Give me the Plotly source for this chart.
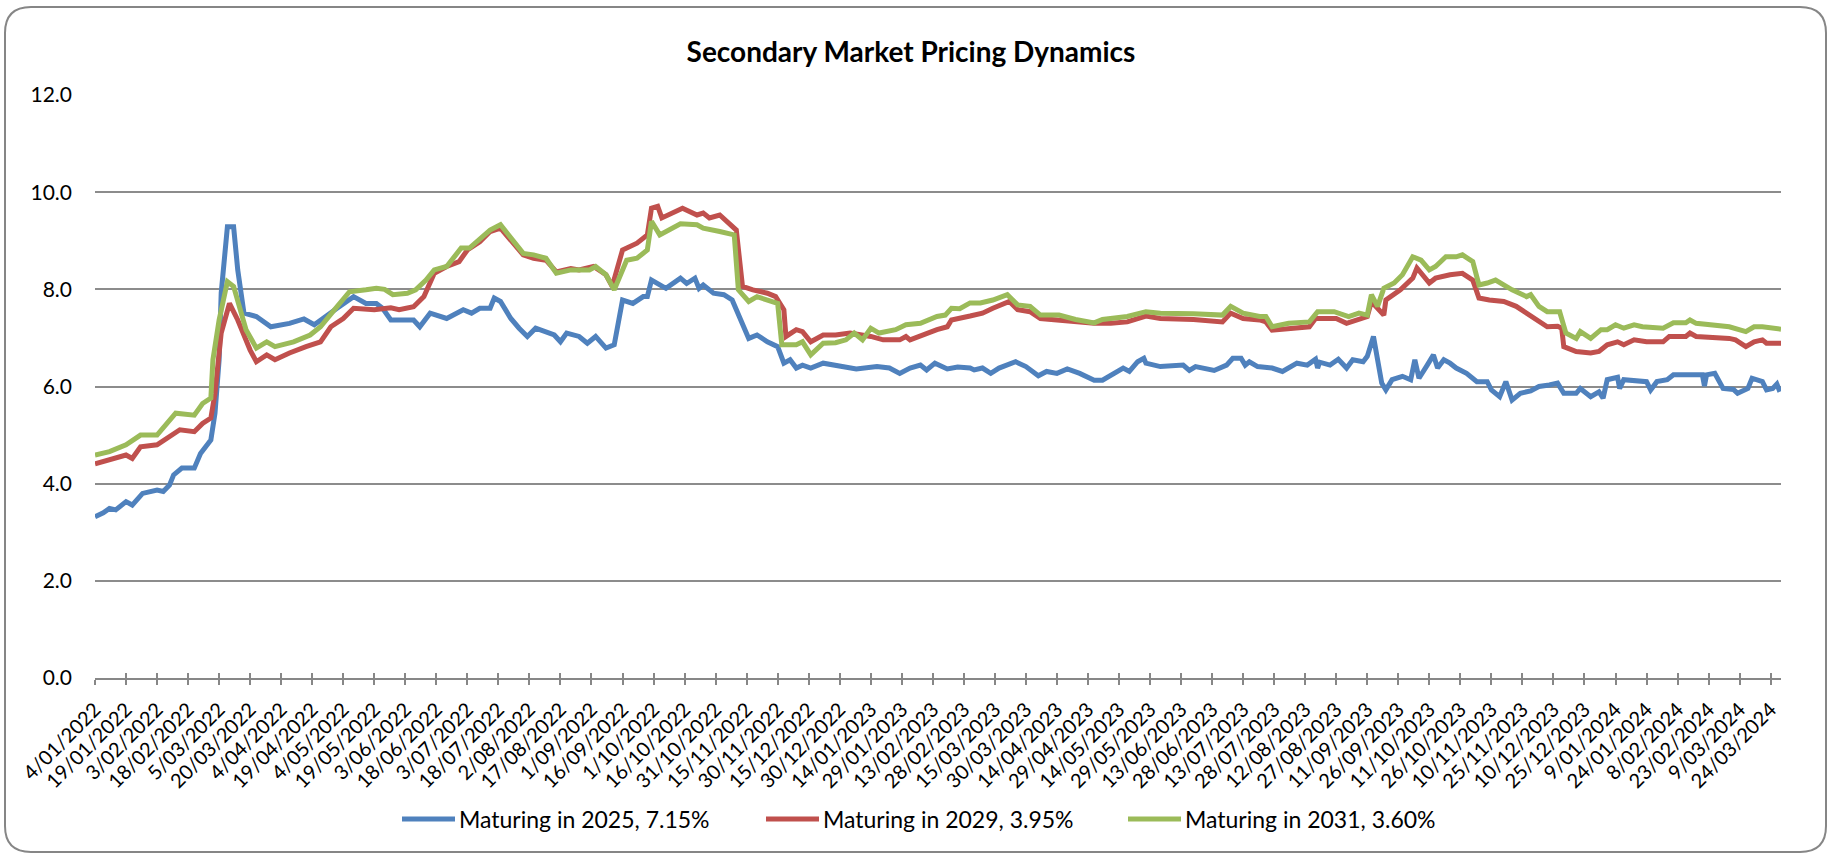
import pandas as pd
import plotly.graph_objects as go

# days counted from 4/01/2022
start = pd.Timestamp("2022-01-04")

blue_day = [0, 4, 7, 10, 15, 18, 23, 30, 33, 36, 38, 42, 48, 51, 56, 58, 60, 61, 64, 67, 69, 72, 78, 85, 94,
            101, 106, 110, 117, 125, 131, 136, 139, 143, 154, 157, 162, 170, 178, 182, 186, 191, 193, 196, 201,
            205, 209, 213, 222, 225, 228, 234, 238, 242, 247, 251, 255, 260, 265, 267, 269, 276, 283, 286, 290,
            292, 294, 299, 304, 308, 310, 316, 320, 325, 330, 333, 336, 339, 342, 346, 352, 358, 368, 378, 384,
            389, 394, 399, 402, 406, 412, 417, 423, 425, 429, 433, 437, 445, 450, 456, 460, 465, 470, 476, 483,
            487, 492, 497, 500, 504, 507, 508, 515, 526, 529, 532, 541, 547, 550, 554, 556, 558, 562, 569, 574,
            581, 586, 590, 591, 592, 597, 601, 605, 608, 613, 615, 618, 619, 622, 624, 627, 632, 636, 638, 640,
            644, 647, 649, 652, 655, 658, 663, 668, 673, 675, 679, 682, 685, 689, 694, 698, 703, 707, 710, 716,
            718, 723, 727, 729, 731, 736, 737, 739, 750, 752, 755, 760, 763, 777, 778, 779, 783, 787, 792, 794,
            799, 801, 806, 808, 811, 813, 814, 815]
blue_val = [3.32, 3.40, 3.49, 3.46, 3.63, 3.56, 3.80, 3.87, 3.84, 3.97, 4.18, 4.32, 4.32, 4.62, 4.90, 5.45, 6.55,
            7.92, 9.29, 9.29, 8.40, 7.51, 7.44, 7.23, 7.30, 7.39, 7.27, 7.40, 7.61, 7.85, 7.71, 7.71, 7.61, 7.37,
            7.37, 7.23, 7.51, 7.40, 7.58, 7.51, 7.61, 7.61, 7.82, 7.75, 7.40, 7.20, 7.03, 7.20, 7.06, 6.92, 7.10,
            7.03, 6.89, 7.03, 6.79, 6.86, 7.78, 7.71, 7.85, 7.85, 8.19, 8.02, 8.23, 8.12, 8.23, 8.02, 8.09, 7.92,
            7.89, 7.78, 7.58, 6.99, 7.06, 6.92, 6.82, 6.48, 6.55, 6.38, 6.44, 6.38, 6.48, 6.44, 6.36, 6.41, 6.38,
            6.27, 6.38, 6.44, 6.34, 6.48, 6.36, 6.40, 6.38, 6.34, 6.38, 6.27, 6.38, 6.51, 6.41, 6.22, 6.31, 6.27,
            6.36, 6.27, 6.13, 6.13, 6.27, 6.38, 6.31, 6.51, 6.58, 6.48, 6.41, 6.44, 6.33, 6.41, 6.33, 6.44, 6.58,
            6.58, 6.44, 6.51, 6.41, 6.38, 6.31, 6.48, 6.44, 6.56, 6.38, 6.50, 6.44, 6.56, 6.38, 6.55, 6.51, 6.62,
            7.03, 6.82, 6.07, 5.93, 6.14, 6.21, 6.14, 6.55, 6.17, 6.44, 6.65, 6.38, 6.55, 6.48, 6.38, 6.27, 6.10,
            6.10, 5.93, 5.79, 6.10, 5.72, 5.86, 5.91, 6.00, 6.03, 6.07, 5.86, 5.86, 5.96, 5.79, 5.89, 5.76, 6.14,
            6.19, 5.96, 6.14, 6.10, 5.93, 6.10, 6.14, 6.24, 6.24, 6.01, 6.24, 6.27, 5.96, 5.94, 5.86, 5.96, 6.17,
            6.10, 5.93, 5.96, 6.05, 5.94, 5.96]

red_day = [0, 7, 15, 18, 22, 30, 36, 41, 48, 52, 56, 58, 61, 65, 69, 72, 75, 78, 83, 87, 94, 102, 109, 114, 120,
           125, 135, 143, 147, 154, 159, 164, 170, 176, 180, 186, 191, 196, 202, 207, 212, 218, 223, 230, 234, 241,
           247, 250, 255, 262, 267, 269, 272, 274, 284, 291, 294, 297, 302, 305, 310, 313, 318, 325, 329, 333, 334,
           339, 342, 346, 352, 358, 365, 375, 381, 389, 392, 394, 400, 407, 412, 414, 423, 429, 434, 442, 446, 452,
           457, 466, 475, 483, 491, 499, 508, 515, 531, 545, 549, 555, 563, 566, 569, 577, 587, 590, 600, 605, 611,
           615, 617, 621, 623, 624, 631, 637, 639, 645, 648, 655, 661, 666, 669, 674, 681, 687, 692, 694, 697, 702,
           707, 709, 710, 716, 723, 727, 731, 736, 739, 744, 750, 758, 761, 769, 771, 774, 790, 793, 798, 802, 806,
           808, 815]
red_val = [4.41, 4.49, 4.59, 4.52, 4.76, 4.80, 4.97, 5.11, 5.07, 5.24, 5.35, 5.86, 7.10, 7.71, 7.37, 7.03, 6.75,
           6.51, 6.65, 6.55, 6.69, 6.82, 6.92, 7.23, 7.40, 7.61, 7.58, 7.62, 7.58, 7.64, 7.85, 8.33, 8.47, 8.57,
           8.81, 8.98, 9.19, 9.26, 8.98, 8.71, 8.64, 8.60, 8.36, 8.43, 8.40, 8.47, 8.30, 8.06, 8.81, 8.95, 9.12,
           9.67, 9.71, 9.47, 9.67, 9.53, 9.57, 9.47, 9.53, 9.40, 9.22, 8.06, 7.99, 7.92, 7.85, 7.58, 7.03, 7.17,
           7.13, 6.92, 7.06, 7.06, 7.10, 7.03, 6.96, 6.96, 7.03, 6.96, 7.06, 7.17, 7.23, 7.37, 7.45, 7.51, 7.61,
           7.75, 7.58, 7.54, 7.40, 7.37, 7.33, 7.30, 7.30, 7.33, 7.45, 7.40, 7.38, 7.33, 7.51, 7.40, 7.37, 7.33,
           7.16, 7.20, 7.23, 7.40, 7.40, 7.30, 7.37, 7.44, 7.75, 7.58, 7.47, 7.78, 7.99, 8.23, 8.44, 8.13, 8.23,
           8.30, 8.33, 8.19, 7.82, 7.78, 7.75, 7.65, 7.51, 7.45, 7.36, 7.23, 7.24, 7.20, 6.82, 6.72, 6.69, 6.72,
           6.86, 6.92, 6.86, 6.96, 6.92, 6.92, 7.03, 7.03, 7.10, 7.03, 6.99, 6.96, 6.82, 6.92, 6.96, 6.89, 6.89]

green_day = [0, 7, 15, 22, 30, 35, 39, 48, 52, 56, 57, 60, 64, 67, 70, 73, 78, 83, 87, 96, 104, 109, 115, 123, 131,
             136, 140, 144, 151, 155, 160, 164, 170, 177, 181, 186, 191, 196, 202, 207, 212, 218, 223, 230, 239, 242,
             247, 251, 257, 262, 267, 269, 273, 283, 291, 294, 302, 309, 311, 316, 320, 326, 330, 332, 339, 342, 346,
             352, 358, 363, 367, 371, 375, 379, 387, 392, 399, 407, 411, 414, 418, 423, 428, 434, 441, 446, 452, 457,
             466, 474, 483, 487, 499, 508, 515, 531, 545, 549, 555, 563, 566, 569, 577, 587, 591, 599, 606, 611, 615,
             617, 620, 623, 628, 632, 637, 641, 645, 648, 653, 658, 661, 666, 669, 673, 677, 685, 692, 694, 698, 702,
             708, 711, 716, 718, 723, 728, 731, 735, 739, 744, 748, 758, 763, 769, 771, 774, 790, 798, 802, 806, 815]
green_val = [4.59, 4.66, 4.80, 5.00, 5.00, 5.24, 5.45, 5.41, 5.65, 5.76, 6.55, 7.37, 8.16, 8.06, 7.65, 7.17, 6.79,
             6.92, 6.82, 6.92, 7.06, 7.23, 7.54, 7.95, 7.99, 8.02, 8.00, 7.89, 7.92, 7.99, 8.19, 8.40, 8.47, 8.85,
             8.85, 9.02, 9.22, 9.33, 9.02, 8.74, 8.71, 8.64, 8.33, 8.40, 8.40, 8.47, 8.30, 7.99, 8.60, 8.64, 8.81,
             9.40, 9.12, 9.35, 9.33, 9.26, 9.19, 9.12, 7.99, 7.75, 7.85, 7.75, 7.71, 6.86, 6.86, 6.92, 6.65, 6.89,
             6.90, 6.96, 7.10, 6.96, 7.20, 7.10, 7.17, 7.27, 7.30, 7.44, 7.47, 7.61, 7.60, 7.72, 7.72, 7.78, 7.89,
             7.68, 7.65, 7.47, 7.47, 7.38, 7.31, 7.38, 7.44, 7.54, 7.51, 7.50, 7.47, 7.65, 7.51, 7.44, 7.44, 7.23,
             7.30, 7.33, 7.54, 7.54, 7.44, 7.51, 7.47, 7.89, 7.65, 8.02, 8.13, 8.30, 8.67, 8.60, 8.40, 8.47, 8.67,
             8.67, 8.71, 8.57, 8.09, 8.13, 8.19, 7.99, 7.85, 7.89, 7.65, 7.54, 7.54, 7.10, 6.99, 7.13, 6.99, 7.17,
             7.17, 7.27, 7.20, 7.27, 7.23, 7.20, 7.31, 7.31, 7.37, 7.30, 7.23, 7.13, 7.23, 7.23, 7.18]

series = [
    ("Maturing in 2025, 7.15%", blue_day, blue_val, "#4F81BD"),
    ("Maturing in 2029, 3.95%", red_day, red_val, "#C0504D"),
    ("Maturing in 2031, 3.60%", green_day, green_val, "#9BBB59"),
]

W, H = 1831, 856
L, R, T, B = 95, 50, 95, 178
pw, ph = W - L - R, H - T - B
FONT = "Lato, 'Open Sans', sans-serif"

def px(x):  # pixel -> paper
    return (x - L) / pw

def py(y):
    return (H - B - y) / ph

fig = go.Figure()
for name, days, vals, color in series:
    fig.add_trace(go.Scatter(
        x=start + pd.to_timedelta(days, unit="D"), y=vals,
        mode="lines", name=name, line=dict(color=color, width=5),
        showlegend=False))

# second x axis only for the inside half of the crossing tick marks
fig.add_trace(go.Scatter(x=[], y=[], xaxis="x2", showlegend=False))

x_range = ["2022-01-04", "2024-03-29"]
fig.update_layout(
    width=W, height=H,
    margin=dict(l=L, r=R, t=T, b=B, autoexpand=False),
    paper_bgcolor="white", plot_bgcolor="white",
    font=dict(family=FONT, color="black", size=19),
    title=dict(text="<b>Secondary Market Pricing Dynamics</b>", x=911 / W, xref="container",
               y=1 - 52 / H, yref="container", yanchor="middle", xanchor="center",
               font=dict(size=28, family=FONT)),
    xaxis=dict(type="date", range=x_range, tick0="2022-01-04", dtick=15 * 86400000,
               tickformat="%-d/%m/%Y", tickangle=-45, showgrid=False, automargin=False,
               showline=True, linecolor="#878787", linewidth=2,
               ticks="outside", ticklen=5, tickwidth=2, tickcolor="#878787",
               ticklabelstandoff=5, tickfont=dict(size=20)),
    xaxis2=dict(type="date", range=x_range, tick0="2022-01-04", dtick=15 * 86400000,
                overlaying="x", anchor="y", showticklabels=False, showgrid=False, automargin=False,
                ticks="inside", ticklen=5, tickwidth=2, tickcolor="#878787"),
    yaxis=dict(range=[0, 12], dtick=2, tickformat=".1f", showgrid=True, automargin=False,
               gridcolor="#8C8C8C", gridwidth=2, zeroline=False, showline=False,
               ticklabelstandoff=22, tickfont=dict(size=21)),
)

# rounded chart border
x0, x1, y0, y1, r = 5, 1826, 7, 852, 26
path = (f"M {px(x0 + r)} {py(y0)} L {px(x1 - r)} {py(y0)} Q {px(x1)} {py(y0)} {px(x1)} {py(y0 + r)} "
        f"L {px(x1)} {py(y1 - r)} Q {px(x1)} {py(y1)} {px(x1 - r)} {py(y1)} "
        f"L {px(x0 + r)} {py(y1)} Q {px(x0)} {py(y1)} {px(x0)} {py(y1 - r)} "
        f"L {px(x0)} {py(y0 + r)} Q {px(x0)} {py(y0)} {px(x0 + r)} {py(y0)} Z")
fig.add_shape(type="path", path=path, xref="paper", yref="paper",
              line=dict(color="#868686", width=2), layer="below")

# legend drawn by hand to get the long Excel-style swatches
legend_x = [402, 766, 1128]
for (name, _, _, color), lx in zip(series, legend_x):
    fig.add_shape(type="line", xref="paper", yref="paper",
                  x0=px(lx), x1=px(lx + 53), y0=py(819), y1=py(819),
                  line=dict(color=color, width=5))
    fig.add_annotation(text=name, xref="paper", yref="paper", x=px(lx + 55), y=py(819),
                       xanchor="left", yanchor="middle", showarrow=False,
                       font=dict(size=23, family=FONT, color="black"))

# page body has a default 8px margin; drop it so the figure sits at the window origin
fig.write_html("out.html", config={"displayModeBar": False},
               post_script="document.body.style.margin='0px';document.body.style.overflow='hidden';")
